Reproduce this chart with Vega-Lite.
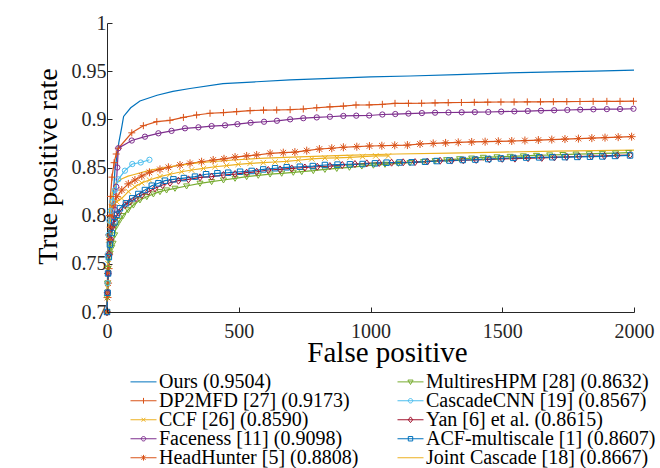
{
  "$schema": "https://vega.github.io/schema/vega-lite/v6.json",
  "width": 527,
  "height": 289,
  "autosize": "none",
  "padding": {"left": 107, "top": 23, "right": 26, "bottom": 156},
  "background": "white",
  "config": {
    "view": {"stroke": null},
    "font": "Liberation Serif"
  },
  "datasets": {
    "names": [
      {"m": "Ours", "label": "Ours (0.9504)"},
      {"m": "DP2MFD", "label": "DP2MFD [27] (0.9173)"},
      {"m": "CCF", "label": "CCF [26] (0.8590)"},
      {"m": "Faceness", "label": "Faceness [11] (0.9098)"},
      {"m": "HeadHunter", "label": "HeadHunter [5] (0.8808)"},
      {"m": "MultiresHPM", "label": "MultiresHPM [28] (0.8632)"},
      {"m": "CascadeCNN", "label": "CascadeCNN [19] (0.8567)"},
      {"m": "Yan", "label": "Yan [6] et al. (0.8615)"},
      {"m": "ACF", "label": "ACF-multiscale [1] (0.8607)"},
      {"m": "Joint", "label": "Joint Cascade [18] (0.8667)"}
    ],
    "curves": [
      {"m":"Ours","fp":0,"tpr":0.700},{"m":"Ours","fp":5,"tpr":0.740},{"m":"Ours","fp":12,"tpr":0.780},{"m":"Ours","fp":22,"tpr":0.813},{"m":"Ours","fp":30,"tpr":0.847},{"m":"Ours","fp":45,"tpr":0.876},{"m":"Ours","fp":56,"tpr":0.892},{"m":"Ours","fp":63,"tpr":0.903},{"m":"Ours","fp":90,"tpr":0.912},{"m":"Ours","fp":125,"tpr":0.919},{"m":"Ours","fp":190,"tpr":0.925},{"m":"Ours","fp":250,"tpr":0.929},{"m":"Ours","fp":315,"tpr":0.932},{"m":"Ours","fp":440,"tpr":0.937},{"m":"Ours","fp":568,"tpr":0.939},{"m":"Ours","fp":695,"tpr":0.941},{"m":"Ours","fp":850,"tpr":0.9425},{"m":"Ours","fp":1000,"tpr":0.944},{"m":"Ours","fp":1150,"tpr":0.945},{"m":"Ours","fp":1328,"tpr":0.9465},{"m":"Ours","fp":1500,"tpr":0.948},{"m":"Ours","fp":1700,"tpr":0.9492},{"m":"Ours","fp":1850,"tpr":0.950},{"m":"Ours","fp":2000,"tpr":0.951},

      {"m":"DP2MFD","fp":0,"tpr":0.700},{"m":"DP2MFD","fp":1,"tpr":0.720},{"m":"DP2MFD","fp":2,"tpr":0.740},{"m":"DP2MFD","fp":4,"tpr":0.760},{"m":"DP2MFD","fp":6,"tpr":0.780},{"m":"DP2MFD","fp":9,"tpr":0.800},{"m":"DP2MFD","fp":13,"tpr":0.820},{"m":"DP2MFD","fp":19,"tpr":0.840},{"m":"DP2MFD","fp":27,"tpr":0.855},{"m":"DP2MFD","fp":35,"tpr":0.864},{"m":"DP2MFD","fp":43,"tpr":0.870},{"m":"DP2MFD","fp":94,"tpr":0.886},{"m":"DP2MFD","fp":138,"tpr":0.8934},{"m":"DP2MFD","fp":189,"tpr":0.8976},{"m":"DP2MFD","fp":239,"tpr":0.899},{"m":"DP2MFD","fp":290,"tpr":0.902},{"m":"DP2MFD","fp":340,"tpr":0.9045},{"m":"DP2MFD","fp":391,"tpr":0.9063},{"m":"DP2MFD","fp":442,"tpr":0.907},{"m":"DP2MFD","fp":492,"tpr":0.908},{"m":"DP2MFD","fp":543,"tpr":0.909},{"m":"DP2MFD","fp":594,"tpr":0.9095},{"m":"DP2MFD","fp":644,"tpr":0.9097},{"m":"DP2MFD","fp":695,"tpr":0.910},{"m":"DP2MFD","fp":745,"tpr":0.9107},{"m":"DP2MFD","fp":796,"tpr":0.912},{"m":"DP2MFD","fp":846,"tpr":0.913},{"m":"DP2MFD","fp":897,"tpr":0.9138},{"m":"DP2MFD","fp":945,"tpr":0.9149},{"m":"DP2MFD","fp":995,"tpr":0.915},{"m":"DP2MFD","fp":1045,"tpr":0.9156},{"m":"DP2MFD","fp":1093,"tpr":0.9166},{"m":"DP2MFD","fp":1144,"tpr":0.9166},{"m":"DP2MFD","fp":1194,"tpr":0.9167},{"m":"DP2MFD","fp":1245,"tpr":0.917},{"m":"DP2MFD","fp":1295,"tpr":0.9173},{"m":"DP2MFD","fp":1345,"tpr":0.9175},{"m":"DP2MFD","fp":1394,"tpr":0.9177},{"m":"DP2MFD","fp":1445,"tpr":0.9178},{"m":"DP2MFD","fp":1495,"tpr":0.918},{"m":"DP2MFD","fp":1545,"tpr":0.918},{"m":"DP2MFD","fp":1595,"tpr":0.9181},{"m":"DP2MFD","fp":1645,"tpr":0.9182},{"m":"DP2MFD","fp":1694,"tpr":0.9183},{"m":"DP2MFD","fp":1745,"tpr":0.9184},{"m":"DP2MFD","fp":1795,"tpr":0.9185},{"m":"DP2MFD","fp":1845,"tpr":0.9186},{"m":"DP2MFD","fp":1897,"tpr":0.9187},{"m":"DP2MFD","fp":1947,"tpr":0.9187},{"m":"DP2MFD","fp":1998,"tpr":0.9188},

      {"m":"Faceness","fp":0,"tpr":0.700},{"m":"Faceness","fp":3,"tpr":0.720},{"m":"Faceness","fp":6,"tpr":0.740},{"m":"Faceness","fp":10,"tpr":0.760},{"m":"Faceness","fp":15,"tpr":0.775},{"m":"Faceness","fp":22,"tpr":0.790},{"m":"Faceness","fp":30,"tpr":0.806},{"m":"Faceness","fp":35,"tpr":0.830},{"m":"Faceness","fp":39,"tpr":0.850},{"m":"Faceness","fp":43,"tpr":0.870},{"m":"Faceness","fp":94,"tpr":0.878},{"m":"Faceness","fp":144,"tpr":0.882},{"m":"Faceness","fp":195,"tpr":0.8855},{"m":"Faceness","fp":245,"tpr":0.888},{"m":"Faceness","fp":296,"tpr":0.8907},{"m":"Faceness","fp":347,"tpr":0.8917},{"m":"Faceness","fp":397,"tpr":0.893},{"m":"Faceness","fp":448,"tpr":0.8938},{"m":"Faceness","fp":495,"tpr":0.895},{"m":"Faceness","fp":545,"tpr":0.8965},{"m":"Faceness","fp":596,"tpr":0.8975},{"m":"Faceness","fp":645,"tpr":0.8985},{"m":"Faceness","fp":695,"tpr":0.900},{"m":"Faceness","fp":745,"tpr":0.9012},{"m":"Faceness","fp":796,"tpr":0.902},{"m":"Faceness","fp":846,"tpr":0.9027},{"m":"Faceness","fp":897,"tpr":0.9035},{"m":"Faceness","fp":946,"tpr":0.9038},{"m":"Faceness","fp":995,"tpr":0.904},{"m":"Faceness","fp":1045,"tpr":0.905},{"m":"Faceness","fp":1094,"tpr":0.9055},{"m":"Faceness","fp":1144,"tpr":0.906},{"m":"Faceness","fp":1195,"tpr":0.9065},{"m":"Faceness","fp":1245,"tpr":0.9069},{"m":"Faceness","fp":1296,"tpr":0.9071},{"m":"Faceness","fp":1346,"tpr":0.9073},{"m":"Faceness","fp":1396,"tpr":0.9075},{"m":"Faceness","fp":1447,"tpr":0.9076},{"m":"Faceness","fp":1496,"tpr":0.908},{"m":"Faceness","fp":1546,"tpr":0.9083},{"m":"Faceness","fp":1597,"tpr":0.9086},{"m":"Faceness","fp":1647,"tpr":0.909},{"m":"Faceness","fp":1697,"tpr":0.9094},{"m":"Faceness","fp":1747,"tpr":0.9097},{"m":"Faceness","fp":1796,"tpr":0.910},{"m":"Faceness","fp":1846,"tpr":0.9104},{"m":"Faceness","fp":1897,"tpr":0.9106},{"m":"Faceness","fp":1947,"tpr":0.9107},{"m":"Faceness","fp":1998,"tpr":0.911},

      {"m":"HeadHunter","fp":0,"tpr":0.700},{"m":"HeadHunter","fp":2,"tpr":0.715},{"m":"HeadHunter","fp":4,"tpr":0.730},{"m":"HeadHunter","fp":6,"tpr":0.745},{"m":"HeadHunter","fp":8,"tpr":0.760},{"m":"HeadHunter","fp":11,"tpr":0.775},{"m":"HeadHunter","fp":14,"tpr":0.788},{"m":"HeadHunter","fp":18,"tpr":0.800},{"m":"HeadHunter","fp":24,"tpr":0.811},{"m":"HeadHunter","fp":37,"tpr":0.8197},{"m":"HeadHunter","fp":56,"tpr":0.8266},{"m":"HeadHunter","fp":81,"tpr":0.833},{"m":"HeadHunter","fp":106,"tpr":0.837},{"m":"HeadHunter","fp":132,"tpr":0.8412},{"m":"HeadHunter","fp":161,"tpr":0.845},{"m":"HeadHunter","fp":201,"tpr":0.848},{"m":"HeadHunter","fp":233,"tpr":0.8502},{"m":"HeadHunter","fp":277,"tpr":0.8526},{"m":"HeadHunter","fp":315,"tpr":0.8543},{"m":"HeadHunter","fp":359,"tpr":0.856},{"m":"HeadHunter","fp":403,"tpr":0.8578},{"m":"HeadHunter","fp":444,"tpr":0.859},{"m":"HeadHunter","fp":486,"tpr":0.8608},{"m":"HeadHunter","fp":530,"tpr":0.862},{"m":"HeadHunter","fp":568,"tpr":0.863},{"m":"HeadHunter","fp":619,"tpr":0.8647},{"m":"HeadHunter","fp":669,"tpr":0.8654},{"m":"HeadHunter","fp":713,"tpr":0.866},{"m":"HeadHunter","fp":758,"tpr":0.8675},{"m":"HeadHunter","fp":806,"tpr":0.8692},{"m":"HeadHunter","fp":853,"tpr":0.870},{"m":"HeadHunter","fp":897,"tpr":0.871},{"m":"HeadHunter","fp":948,"tpr":0.8716},{"m":"HeadHunter","fp":996,"tpr":0.8723},{"m":"HeadHunter","fp":1043,"tpr":0.8726},{"m":"HeadHunter","fp":1092,"tpr":0.873},{"m":"HeadHunter","fp":1140,"tpr":0.8733},{"m":"HeadHunter","fp":1188,"tpr":0.8744},{"m":"HeadHunter","fp":1238,"tpr":0.875},{"m":"HeadHunter","fp":1285,"tpr":0.8755},{"m":"HeadHunter","fp":1333,"tpr":0.8761},{"m":"HeadHunter","fp":1384,"tpr":0.8765},{"m":"HeadHunter","fp":1435,"tpr":0.8768},{"m":"HeadHunter","fp":1485,"tpr":0.8772},{"m":"HeadHunter","fp":1536,"tpr":0.8775},{"m":"HeadHunter","fp":1586,"tpr":0.878},{"m":"HeadHunter","fp":1637,"tpr":0.8785},{"m":"HeadHunter","fp":1688,"tpr":0.879},{"m":"HeadHunter","fp":1738,"tpr":0.8795},{"m":"HeadHunter","fp":1789,"tpr":0.880},{"m":"HeadHunter","fp":1840,"tpr":0.8805},{"m":"HeadHunter","fp":1890,"tpr":0.881},{"m":"HeadHunter","fp":1940,"tpr":0.8815},{"m":"HeadHunter","fp":1991,"tpr":0.882},

      {"m":"CCF","fp":0,"tpr":0.700},{"m":"CCF","fp":2,"tpr":0.725},{"m":"CCF","fp":4,"tpr":0.750},{"m":"CCF","fp":7,"tpr":0.775},{"m":"CCF","fp":11,"tpr":0.790},{"m":"CCF","fp":18,"tpr":0.8087},{"m":"CCF","fp":37,"tpr":0.8145},{"m":"CCF","fp":56,"tpr":0.818},{"m":"CCF","fp":81,"tpr":0.825},{"m":"CCF","fp":106,"tpr":0.830},{"m":"CCF","fp":132,"tpr":0.834},{"m":"CCF","fp":161,"tpr":0.837},{"m":"CCF","fp":201,"tpr":0.8405},{"m":"CCF","fp":239,"tpr":0.843},{"m":"CCF","fp":283,"tpr":0.8456},{"m":"CCF","fp":321,"tpr":0.8474},{"m":"CCF","fp":366,"tpr":0.849},{"m":"CCF","fp":410,"tpr":0.8508},{"m":"CCF","fp":454,"tpr":0.852},{"m":"CCF","fp":498,"tpr":0.8533},{"m":"CCF","fp":543,"tpr":0.8543},{"m":"CCF","fp":593,"tpr":0.855},{"m":"CCF","fp":638,"tpr":0.8557},{"m":"CCF","fp":682,"tpr":0.8563},{"m":"CCF","fp":726,"tpr":0.8575},{"m":"CCF","fp":777,"tpr":0.859},{"m":"CCF","fp":827,"tpr":0.8598},{"m":"CCF","fp":872,"tpr":0.860},{"m":"CCF","fp":922,"tpr":0.8605},{"m":"CCF","fp":970,"tpr":0.8612},{"m":"CCF","fp":1020,"tpr":0.862},{"m":"CCF","fp":1068,"tpr":0.862},

      {"m":"Joint","fp":0,"tpr":0.700},{"m":"Joint","fp":2,"tpr":0.730},{"m":"Joint","fp":4,"tpr":0.760},{"m":"Joint","fp":6,"tpr":0.785},{"m":"Joint","fp":9,"tpr":0.800},{"m":"Joint","fp":14,"tpr":0.815},{"m":"Joint","fp":22,"tpr":0.826},{"m":"Joint","fp":35,"tpr":0.834},{"m":"Joint","fp":55,"tpr":0.838},{"m":"Joint","fp":80,"tpr":0.841},{"m":"Joint","fp":100,"tpr":0.8425},{"m":"Joint","fp":160,"tpr":0.847},{"m":"Joint","fp":230,"tpr":0.8505},{"m":"Joint","fp":350,"tpr":0.855},{"m":"Joint","fp":480,"tpr":0.8578},{"m":"Joint","fp":600,"tpr":0.8598},{"m":"Joint","fp":730,"tpr":0.861},{"m":"Joint","fp":900,"tpr":0.8625},{"m":"Joint","fp":1100,"tpr":0.864},{"m":"Joint","fp":1300,"tpr":0.865},{"m":"Joint","fp":1500,"tpr":0.866},{"m":"Joint","fp":1700,"tpr":0.867},{"m":"Joint","fp":1850,"tpr":0.8675},{"m":"Joint","fp":2000,"tpr":0.868},

      {"m":"CascadeCNN","fp":0,"tpr":0.700},{"m":"CascadeCNN","fp":2,"tpr":0.730},{"m":"CascadeCNN","fp":4,"tpr":0.760},{"m":"CascadeCNN","fp":6,"tpr":0.780},{"m":"CascadeCNN","fp":9,"tpr":0.795},{"m":"CascadeCNN","fp":14,"tpr":0.805},{"m":"CascadeCNN","fp":20,"tpr":0.8145},{"m":"CascadeCNN","fp":30,"tpr":0.8266},{"m":"CascadeCNN","fp":43,"tpr":0.8377},{"m":"CascadeCNN","fp":68,"tpr":0.8467},{"m":"CascadeCNN","fp":96,"tpr":0.8536},{"m":"CascadeCNN","fp":128,"tpr":0.8552},{"m":"CascadeCNN","fp":161,"tpr":0.858},

      {"m":"MultiresHPM","fp":0,"tpr":0.700},{"m":"MultiresHPM","fp":1,"tpr":0.715},{"m":"MultiresHPM","fp":2,"tpr":0.730},{"m":"MultiresHPM","fp":4,"tpr":0.745},{"m":"MultiresHPM","fp":7,"tpr":0.755},{"m":"MultiresHPM","fp":12,"tpr":0.761},{"m":"MultiresHPM","fp":18,"tpr":0.767},{"m":"MultiresHPM","fp":23,"tpr":0.7713},{"m":"MultiresHPM","fp":29,"tpr":0.780},{"m":"MultiresHPM","fp":35,"tpr":0.789},{"m":"MultiresHPM","fp":48,"tpr":0.795},{"m":"MultiresHPM","fp":61,"tpr":0.800},{"m":"MultiresHPM","fp":80,"tpr":0.806},{"m":"MultiresHPM","fp":100,"tpr":0.811},{"m":"MultiresHPM","fp":125,"tpr":0.8163},{"m":"MultiresHPM","fp":151,"tpr":0.8197},{"m":"MultiresHPM","fp":176,"tpr":0.8225},{"m":"MultiresHPM","fp":201,"tpr":0.8249},{"m":"MultiresHPM","fp":226,"tpr":0.8266},{"m":"MultiresHPM","fp":258,"tpr":0.8284},{"m":"MultiresHPM","fp":302,"tpr":0.8308},{"m":"MultiresHPM","fp":353,"tpr":0.8336},{"m":"MultiresHPM","fp":397,"tpr":0.8353},{"m":"MultiresHPM","fp":442,"tpr":0.837},{"m":"MultiresHPM","fp":486,"tpr":0.8388},{"m":"MultiresHPM","fp":530,"tpr":0.8405},{"m":"MultiresHPM","fp":574,"tpr":0.8419},{"m":"MultiresHPM","fp":619,"tpr":0.8432},{"m":"MultiresHPM","fp":663,"tpr":0.844},{"m":"MultiresHPM","fp":707,"tpr":0.845},{"m":"MultiresHPM","fp":739,"tpr":0.8457},{"m":"MultiresHPM","fp":783,"tpr":0.8467},{"m":"MultiresHPM","fp":827,"tpr":0.848},{"m":"MultiresHPM","fp":872,"tpr":0.849},{"m":"MultiresHPM","fp":920,"tpr":0.8502},{"m":"MultiresHPM","fp":967,"tpr":0.8515},{"m":"MultiresHPM","fp":1011,"tpr":0.8524},{"m":"MultiresHPM","fp":1055,"tpr":0.8533},{"m":"MultiresHPM","fp":1106,"tpr":0.8543},{"m":"MultiresHPM","fp":1150,"tpr":0.855},{"m":"MultiresHPM","fp":1201,"tpr":0.856},{"m":"MultiresHPM","fp":1245,"tpr":0.857},{"m":"MultiresHPM","fp":1289,"tpr":0.858},{"m":"MultiresHPM","fp":1338,"tpr":0.859},{"m":"MultiresHPM","fp":1384,"tpr":0.8597},{"m":"MultiresHPM","fp":1428,"tpr":0.8605},{"m":"MultiresHPM","fp":1480,"tpr":0.861},{"m":"MultiresHPM","fp":1530,"tpr":0.8615},{"m":"MultiresHPM","fp":1580,"tpr":0.862},{"m":"MultiresHPM","fp":1630,"tpr":0.8625},{"m":"MultiresHPM","fp":1680,"tpr":0.863},{"m":"MultiresHPM","fp":1730,"tpr":0.8634},{"m":"MultiresHPM","fp":1780,"tpr":0.8638},{"m":"MultiresHPM","fp":1830,"tpr":0.8642},{"m":"MultiresHPM","fp":1880,"tpr":0.8646},{"m":"MultiresHPM","fp":1930,"tpr":0.865},{"m":"MultiresHPM","fp":1980,"tpr":0.8655},

      {"m":"Yan","fp":0,"tpr":0.700},{"m":"Yan","fp":2,"tpr":0.720},{"m":"Yan","fp":4,"tpr":0.740},{"m":"Yan","fp":7,"tpr":0.760},{"m":"Yan","fp":12,"tpr":0.775},{"m":"Yan","fp":20,"tpr":0.788},{"m":"Yan","fp":30,"tpr":0.797},{"m":"Yan","fp":45,"tpr":0.803},{"m":"Yan","fp":68,"tpr":0.811},{"m":"Yan","fp":87,"tpr":0.8145},{"m":"Yan","fp":110,"tpr":0.818},{"m":"Yan","fp":132,"tpr":0.8214},{"m":"Yan","fp":157,"tpr":0.8249},{"m":"Yan","fp":182,"tpr":0.8284},{"m":"Yan","fp":211,"tpr":0.8318},{"m":"Yan","fp":239,"tpr":0.8342},{"m":"Yan","fp":271,"tpr":0.8363},{"m":"Yan","fp":309,"tpr":0.8377},{"m":"Yan","fp":353,"tpr":0.8398},{"m":"Yan","fp":397,"tpr":0.8405},{"m":"Yan","fp":442,"tpr":0.8422},{"m":"Yan","fp":486,"tpr":0.8432},{"m":"Yan","fp":530,"tpr":0.8446},{"m":"Yan","fp":568,"tpr":0.8456},{"m":"Yan","fp":612,"tpr":0.8474},{"m":"Yan","fp":657,"tpr":0.848},{"m":"Yan","fp":701,"tpr":0.849},{"m":"Yan","fp":751,"tpr":0.850},{"m":"Yan","fp":798,"tpr":0.8508},{"m":"Yan","fp":846,"tpr":0.8515},{"m":"Yan","fp":893,"tpr":0.8526},{"m":"Yan","fp":941,"tpr":0.8536},{"m":"Yan","fp":986,"tpr":0.8543},{"m":"Yan","fp":1033,"tpr":0.8547},{"m":"Yan","fp":1080,"tpr":0.855},{"m":"Yan","fp":1124,"tpr":0.8554},{"m":"Yan","fp":1169,"tpr":0.8556},{"m":"Yan","fp":1216,"tpr":0.8562},{"m":"Yan","fp":1264,"tpr":0.857},{"m":"Yan","fp":1308,"tpr":0.8572},{"m":"Yan","fp":1352,"tpr":0.8575},{"m":"Yan","fp":1401,"tpr":0.8579},{"m":"Yan","fp":1451,"tpr":0.8585},{"m":"Yan","fp":1500,"tpr":0.859},{"m":"Yan","fp":1548,"tpr":0.8592},{"m":"Yan","fp":1598,"tpr":0.8597},{"m":"Yan","fp":1650,"tpr":0.860},{"m":"Yan","fp":1698,"tpr":0.8605},{"m":"Yan","fp":1745,"tpr":0.861},{"m":"Yan","fp":1792,"tpr":0.8614},{"m":"Yan","fp":1839,"tpr":0.8618},{"m":"Yan","fp":1888,"tpr":0.862},{"m":"Yan","fp":1937,"tpr":0.8625},{"m":"Yan","fp":1985,"tpr":0.863},

      {"m":"ACF","fp":0,"tpr":0.700},{"m":"ACF","fp":2,"tpr":0.720},{"m":"ACF","fp":4,"tpr":0.740},{"m":"ACF","fp":7,"tpr":0.757},{"m":"ACF","fp":11,"tpr":0.770},{"m":"ACF","fp":18,"tpr":0.782},{"m":"ACF","fp":28,"tpr":0.793},{"m":"ACF","fp":38,"tpr":0.801},{"m":"ACF","fp":49,"tpr":0.8076},{"m":"ACF","fp":72,"tpr":0.8128},{"m":"ACF","fp":96,"tpr":0.818},{"m":"ACF","fp":119,"tpr":0.8225},{"m":"ACF","fp":144,"tpr":0.8266},{"m":"ACF","fp":170,"tpr":0.8311},{"m":"ACF","fp":195,"tpr":0.8336},{"m":"ACF","fp":220,"tpr":0.8363},{"m":"ACF","fp":252,"tpr":0.8377},{"m":"ACF","fp":292,"tpr":0.839},{"m":"ACF","fp":334,"tpr":0.8405},{"m":"ACF","fp":376,"tpr":0.843},{"m":"ACF","fp":419,"tpr":0.844},{"m":"ACF","fp":460,"tpr":0.8446},{"m":"ACF","fp":505,"tpr":0.8456},{"m":"ACF","fp":549,"tpr":0.8464},{"m":"ACF","fp":593,"tpr":0.848},{"m":"ACF","fp":638,"tpr":0.8492},{"m":"ACF","fp":682,"tpr":0.8502},{"m":"ACF","fp":732,"tpr":0.8508},{"m":"ACF","fp":781,"tpr":0.8515},{"m":"ACF","fp":827,"tpr":0.8526},{"m":"ACF","fp":875,"tpr":0.853},{"m":"ACF","fp":922,"tpr":0.8533},{"m":"ACF","fp":970,"tpr":0.8536},{"m":"ACF","fp":1017,"tpr":0.8543},{"m":"ACF","fp":1061,"tpr":0.855},{"m":"ACF","fp":1110,"tpr":0.8552},{"m":"ACF","fp":1156,"tpr":0.8554},{"m":"ACF","fp":1207,"tpr":0.856},{"m":"ACF","fp":1251,"tpr":0.8567},{"m":"ACF","fp":1300,"tpr":0.8572},{"m":"ACF","fp":1350,"tpr":0.8578},{"m":"ACF","fp":1398,"tpr":0.8582},{"m":"ACF","fp":1447,"tpr":0.8588},{"m":"ACF","fp":1495,"tpr":0.8594},{"m":"ACF","fp":1542,"tpr":0.860},{"m":"ACF","fp":1591,"tpr":0.8603},{"m":"ACF","fp":1640,"tpr":0.8605},{"m":"ACF","fp":1690,"tpr":0.8607},{"m":"ACF","fp":1738,"tpr":0.8608},{"m":"ACF","fp":1785,"tpr":0.861},{"m":"ACF","fp":1833,"tpr":0.8612},{"m":"ACF","fp":1880,"tpr":0.8615},{"m":"ACF","fp":1928,"tpr":0.862},{"m":"ACF","fp":1985,"tpr":0.8625}
    ]
  },
  "data": {"name": "curves"},
  "encoding": {
    "y": {
      "field": "tpr", "type": "quantitative",
      "scale": {"domain": [0.7, 1], "nice": false, "zero": false},
      "axis": {
        "values": [0.7, 0.75, 0.8, 0.85, 0.9, 0.95, 1],
        "format": "~g",
        "grid": false,
        "labelFont": "Liberation Serif", "labelFontSize": 20, "labelColor": "#262626",
        "labelPadding": 6, "labelFlush": false, "labelOverlap": false,
        "tickSize": -5, "tickColor": "#262626", "tickWidth": 1,
        "domainColor": "#262626", "domainWidth": 1,
        "title": "True positive rate",
        "titleFont": "Liberation Serif", "titleFontSize": 28, "titleFontWeight": "normal", "titleColor": "#000000",
        "titleAngle": -90, "titleX": -59, "titleY": 143, "titleAlign": "center", "titleBaseline": "middle"
      }
    }
  },
  "layer": [
    {
      "transform": [{"lookup": "m", "from": {"data": {"name": "names"}, "key": "m", "fields": ["label"]}}],
      "mark": {"type": "line", "strokeWidth": 1.2},
      "encoding": {
        "x": {
          "field": "fp", "type": "quantitative",
          "scale": {"domain": [0, 2000], "nice": false, "zero": false},
          "axis": null
        },
        "color": {
          "field": "label", "type": "nominal",
          "scale": {
            "domain": ["Ours (0.9504)", "DP2MFD [27] (0.9173)", "CCF [26] (0.8590)", "Faceness [11] (0.9098)", "HeadHunter [5] (0.8808)", "MultiresHPM [28] (0.8632)", "CascadeCNN [19] (0.8567)", "Yan [6] et al. (0.8615)", "ACF-multiscale [1] (0.8607)", "Joint Cascade [18] (0.8667)"],
            "range": ["#0072BD", "#D95319", "#EDB120", "#7E2F8E", "#D95319", "#77AC30", "#4DBEEE", "#A2142F", "#0072BD", "#EDB120"]
          },
          "legend": {
            "orient": "none", "legendX": 23, "legendY": 350, "columns": 2, "title": null, "padding": 0,
            "symbolSize": 676, "symbolStrokeWidth": 1, "clipHeight": 17.5,
            "labelFont": "Liberation Serif", "labelFontSize": 20, "labelColor": "#000000", "labelLimit": 0,
            "labelOffset": 2, "rowPadding": -2.2, "columnPadding": 38,
            "encode": {"symbols": {"update": {
              "shape": {"signal": "['M-1,0H1','M-1,0H1M0,-0.22V0.22','M-1,0H1M-0.15,-0.15L0.15,0.15M-0.15,0.15L0.15,-0.15','M-1,0H1M-0.17,0A0.17,0.17,0,1,0,0.17,0A0.17,0.17,0,1,0,-0.17,0','M-1,0H1M0,-0.22V0.22M-0.16,-0.16L0.16,0.16M-0.16,0.16L0.16,-0.16','M-1,0H1M-0.2,-0.14L0.2,-0.14L0,0.2Z','M-1,0H1M-0.17,0A0.17,0.17,0,1,0,0.17,0A0.17,0.17,0,1,0,-0.17,0','M-1,0H1M0,-0.22L0.17,0L0,0.22L-0.17,0Z','M-1,0H1M-0.17,-0.17H0.17V0.17H-0.17Z','M-1,0H1'][datum.index]"},
              "fill": {"value": "transparent"}
            }}}
          }
        }
      }
    },
    {
      "transform": [{"filter": "datum.m === 'DP2MFD'"}],
      "mark": {"type": "point", "filled": false, "opacity": 1, "strokeWidth": 1, "color": "#D95319", "shape": "M-1,0H1M0,-1V1", "size": 49},
      "encoding": {
        "x": {
          "field": "fp", "type": "quantitative",
          "scale": {"domain": [0, 2000], "nice": false, "zero": false},
          "axis": {
            "orient": "bottom", "values": [0, 500, 1000, 1500, 2000], "format": "d", "grid": false,
            "labelFont": "Liberation Serif", "labelFontSize": 20, "labelColor": "#262626",
            "labelPadding": 14, "labelFlush": false, "labelOverlap": false,
            "tickSize": -5, "tickColor": "#262626", "tickWidth": 1,
            "domainColor": "#262626", "domainWidth": 1,
            "title": "False positive",
            "titleFont": "Liberation Serif", "titleFontSize": 29, "titleFontWeight": "normal", "titleColor": "#000000",
            "titleX": 280, "titleY": 40, "titleAlign": "center", "titleBaseline": "middle", "zindex": 1
          }
        }
      }
    },
    {
      "transform": [{"filter": "datum.m === 'CCF'"}],
      "mark": {"type": "point", "filled": false, "opacity": 1, "strokeWidth": 1, "color": "#EDB120", "shape": "M-1,-1L1,1M-1,1L1,-1", "size": 30},
      "encoding": {"x": {"field": "fp", "type": "quantitative", "scale": {"domain": [0, 2000], "nice": false, "zero": false}, "axis": null}}
    },
    {
      "transform": [{"filter": "datum.m === 'Faceness'"}],
      "mark": {"type": "point", "filled": false, "opacity": 1, "strokeWidth": 1, "color": "#7E2F8E", "shape": "circle", "size": 28},
      "encoding": {"x": {"field": "fp", "type": "quantitative", "scale": {"domain": [0, 2000], "nice": false, "zero": false}, "axis": null}}
    },
    {
      "transform": [{"filter": "datum.m === 'HeadHunter'"}],
      "mark": {"type": "point", "filled": false, "opacity": 1, "strokeWidth": 1, "color": "#D95319", "shape": "M-1,0H1M0,-1V1M-0.7,-0.7L0.7,0.7M-0.7,0.7L0.7,-0.7", "size": 64},
      "encoding": {"x": {"field": "fp", "type": "quantitative", "scale": {"domain": [0, 2000], "nice": false, "zero": false}, "axis": null}}
    },
    {
      "transform": [{"filter": "datum.m === 'MultiresHPM'"}],
      "mark": {"type": "point", "filled": false, "opacity": 1, "strokeWidth": 1, "color": "#77AC30", "shape": "M-1,-0.7L1,-0.7L0,1Z", "size": 36},
      "encoding": {"x": {"field": "fp", "type": "quantitative", "scale": {"domain": [0, 2000], "nice": false, "zero": false}, "axis": null}}
    },
    {
      "transform": [{"filter": "datum.m === 'CascadeCNN'"}],
      "mark": {"type": "point", "filled": false, "opacity": 1, "strokeWidth": 1, "color": "#4DBEEE", "shape": "circle", "size": 28},
      "encoding": {"x": {"field": "fp", "type": "quantitative", "scale": {"domain": [0, 2000], "nice": false, "zero": false}, "axis": null}}
    },
    {
      "transform": [{"filter": "datum.m === 'Yan'"}],
      "mark": {"type": "point", "filled": false, "opacity": 1, "strokeWidth": 1, "color": "#A2142F", "shape": "M0,-1L0.75,0L0,1L-0.75,0Z", "size": 49},
      "encoding": {"x": {"field": "fp", "type": "quantitative", "scale": {"domain": [0, 2000], "nice": false, "zero": false}, "axis": null}}
    },
    {
      "transform": [{"filter": "datum.m === 'ACF'"}],
      "mark": {"type": "point", "filled": false, "opacity": 1, "strokeWidth": 1, "color": "#0072BD", "shape": "M-1,-1H1V1H-1Z", "size": 30},
      "encoding": {"x": {"field": "fp", "type": "quantitative", "scale": {"domain": [0, 2000], "nice": false, "zero": false}, "axis": null}}
    }
  ],
  "resolve": {"scale": {"x": "independent"}, "axis": {"x": "independent"}}
}
